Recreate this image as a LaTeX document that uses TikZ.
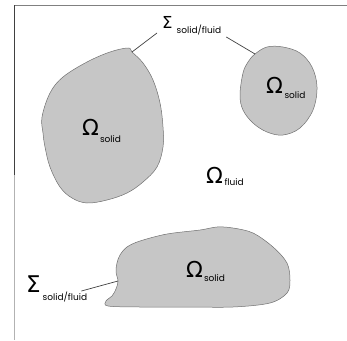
\documentclass[tikz,border=0pt]{standalone}
\usepackage{fontspec}
\setmainfont{Poppins}
\newfontfamily\grk{DejaVu Sans}
\usetikzlibrary{positioning}
\definecolor{BlobFill}{HTML}{C6C6C6}
\definecolor{BlobEdge}{HTML}{707070}
\definecolor{LeadGray}{HTML}{404040}
% symbol with lowered subscript: [drop]{gap}{symbol}{subscript}
\newcommand{\lblsym}[4][4pt]{{\grk #3}\hspace{#2}\raisebox{-#1}{\fontsize{9}{10}\selectfont #4}}

\begin{document}
\begin{tikzpicture}[x=1pt, y=-1pt,
    blob/.style={draw=BlobEdge, fill=BlobFill, line width=0.5pt},
    leader/.style={draw=LeadGray, line width=0.7pt},
    omnode/.style={anchor=base west, inner sep=0pt, font=\fontsize{22}{24}\selectfont},
    sgnode/.style={anchor=base west, inner sep=0pt}
  ]
    \useasboundingbox (0,0) rectangle (347,340);

    % frame
    \draw[line width=0.8pt, draw=gray] (14.5,5.5) -- (347,5.5);
    \draw[line width=1pt, draw=black!75] (14.5,5) -- (14.5,175);
    \draw[line width=0.8pt, draw=black!30] (14.5,175) -- (14.5,340);

    % solid regions
    \draw[blob] plot[smooth cycle, tension=0.6] coordinates {
      (128,48) (132,52) (143,63) (153,80) (160,103) (163,127) (163,147)
      (157,167) (143,182) (127,193) (107,200) (87,203) (72,198) (60,187)
      (50,167) (45,147) (43,133) (42,117) (50,93) (63,77) (87,62) (110,52)};
    \draw[blob] plot[smooth cycle, tension=0.6] coordinates {
      (255,54) (267,47) (283,47) (300,53) (312,67) (317,87) (313,110)
      (300,128) (283,135) (267,132) (253,123) (243,110) (240,95) (243,73) (248,62)};
    \draw[blob] plot[smooth cycle, tension=0.55] coordinates {
      (120,255) (127,247) (140,241) (167,234) (200,230) (217,227) (233,228)
      (253,233) (273,247) (287,263) (290,280) (287,293) (270,303) (233,307)
      (187,307) (140,307) (108,306) (106,301) (112,296) (116,289) (118,281)
      (116,272) (117,263)};

    \coordinate (b1) at (132,52);
    \coordinate (b2) at (255,54);
    \coordinate (b3) at (118,281);

    % labels
    \node[omnode] (om1) at (82,135) {\lblsym[7pt]{1pt}{Ω}{solid}};
    \node[omnode] (om2) at (266,93) {\lblsym[5pt]{1.5pt}{Ω}{solid}};
    \node[omnode] (om3) at (206,183) {\lblsym[2pt]{1.5pt}{Ω}{fluid}};
    \node[omnode] (om4) at (186,277) {\lblsym[4pt]{1pt}{Ω}{solid}};
    \node[sgnode, font=\fontsize{16.5}{18}\selectfont] (sg1) at (162,28) {\lblsym[5pt]{4pt}{Σ}{solid/fluid}};
    \node[sgnode, font=\fontsize{23}{25}\selectfont] (sg2) at (26,292) {\lblsym[8pt]{2pt}{Σ}{solid/fluid}};

    \draw[leader] (b1) -- ([shift={(-5pt,-5pt)}]sg1.base west);
    \draw[leader] ([shift={(5pt,-9pt)}]sg1.base east) -- (b2);
    \draw[leader] ([shift={(-6pt,1pt)}]sg2.base east) -- (b3);
\end{tikzpicture}
\end{document}
